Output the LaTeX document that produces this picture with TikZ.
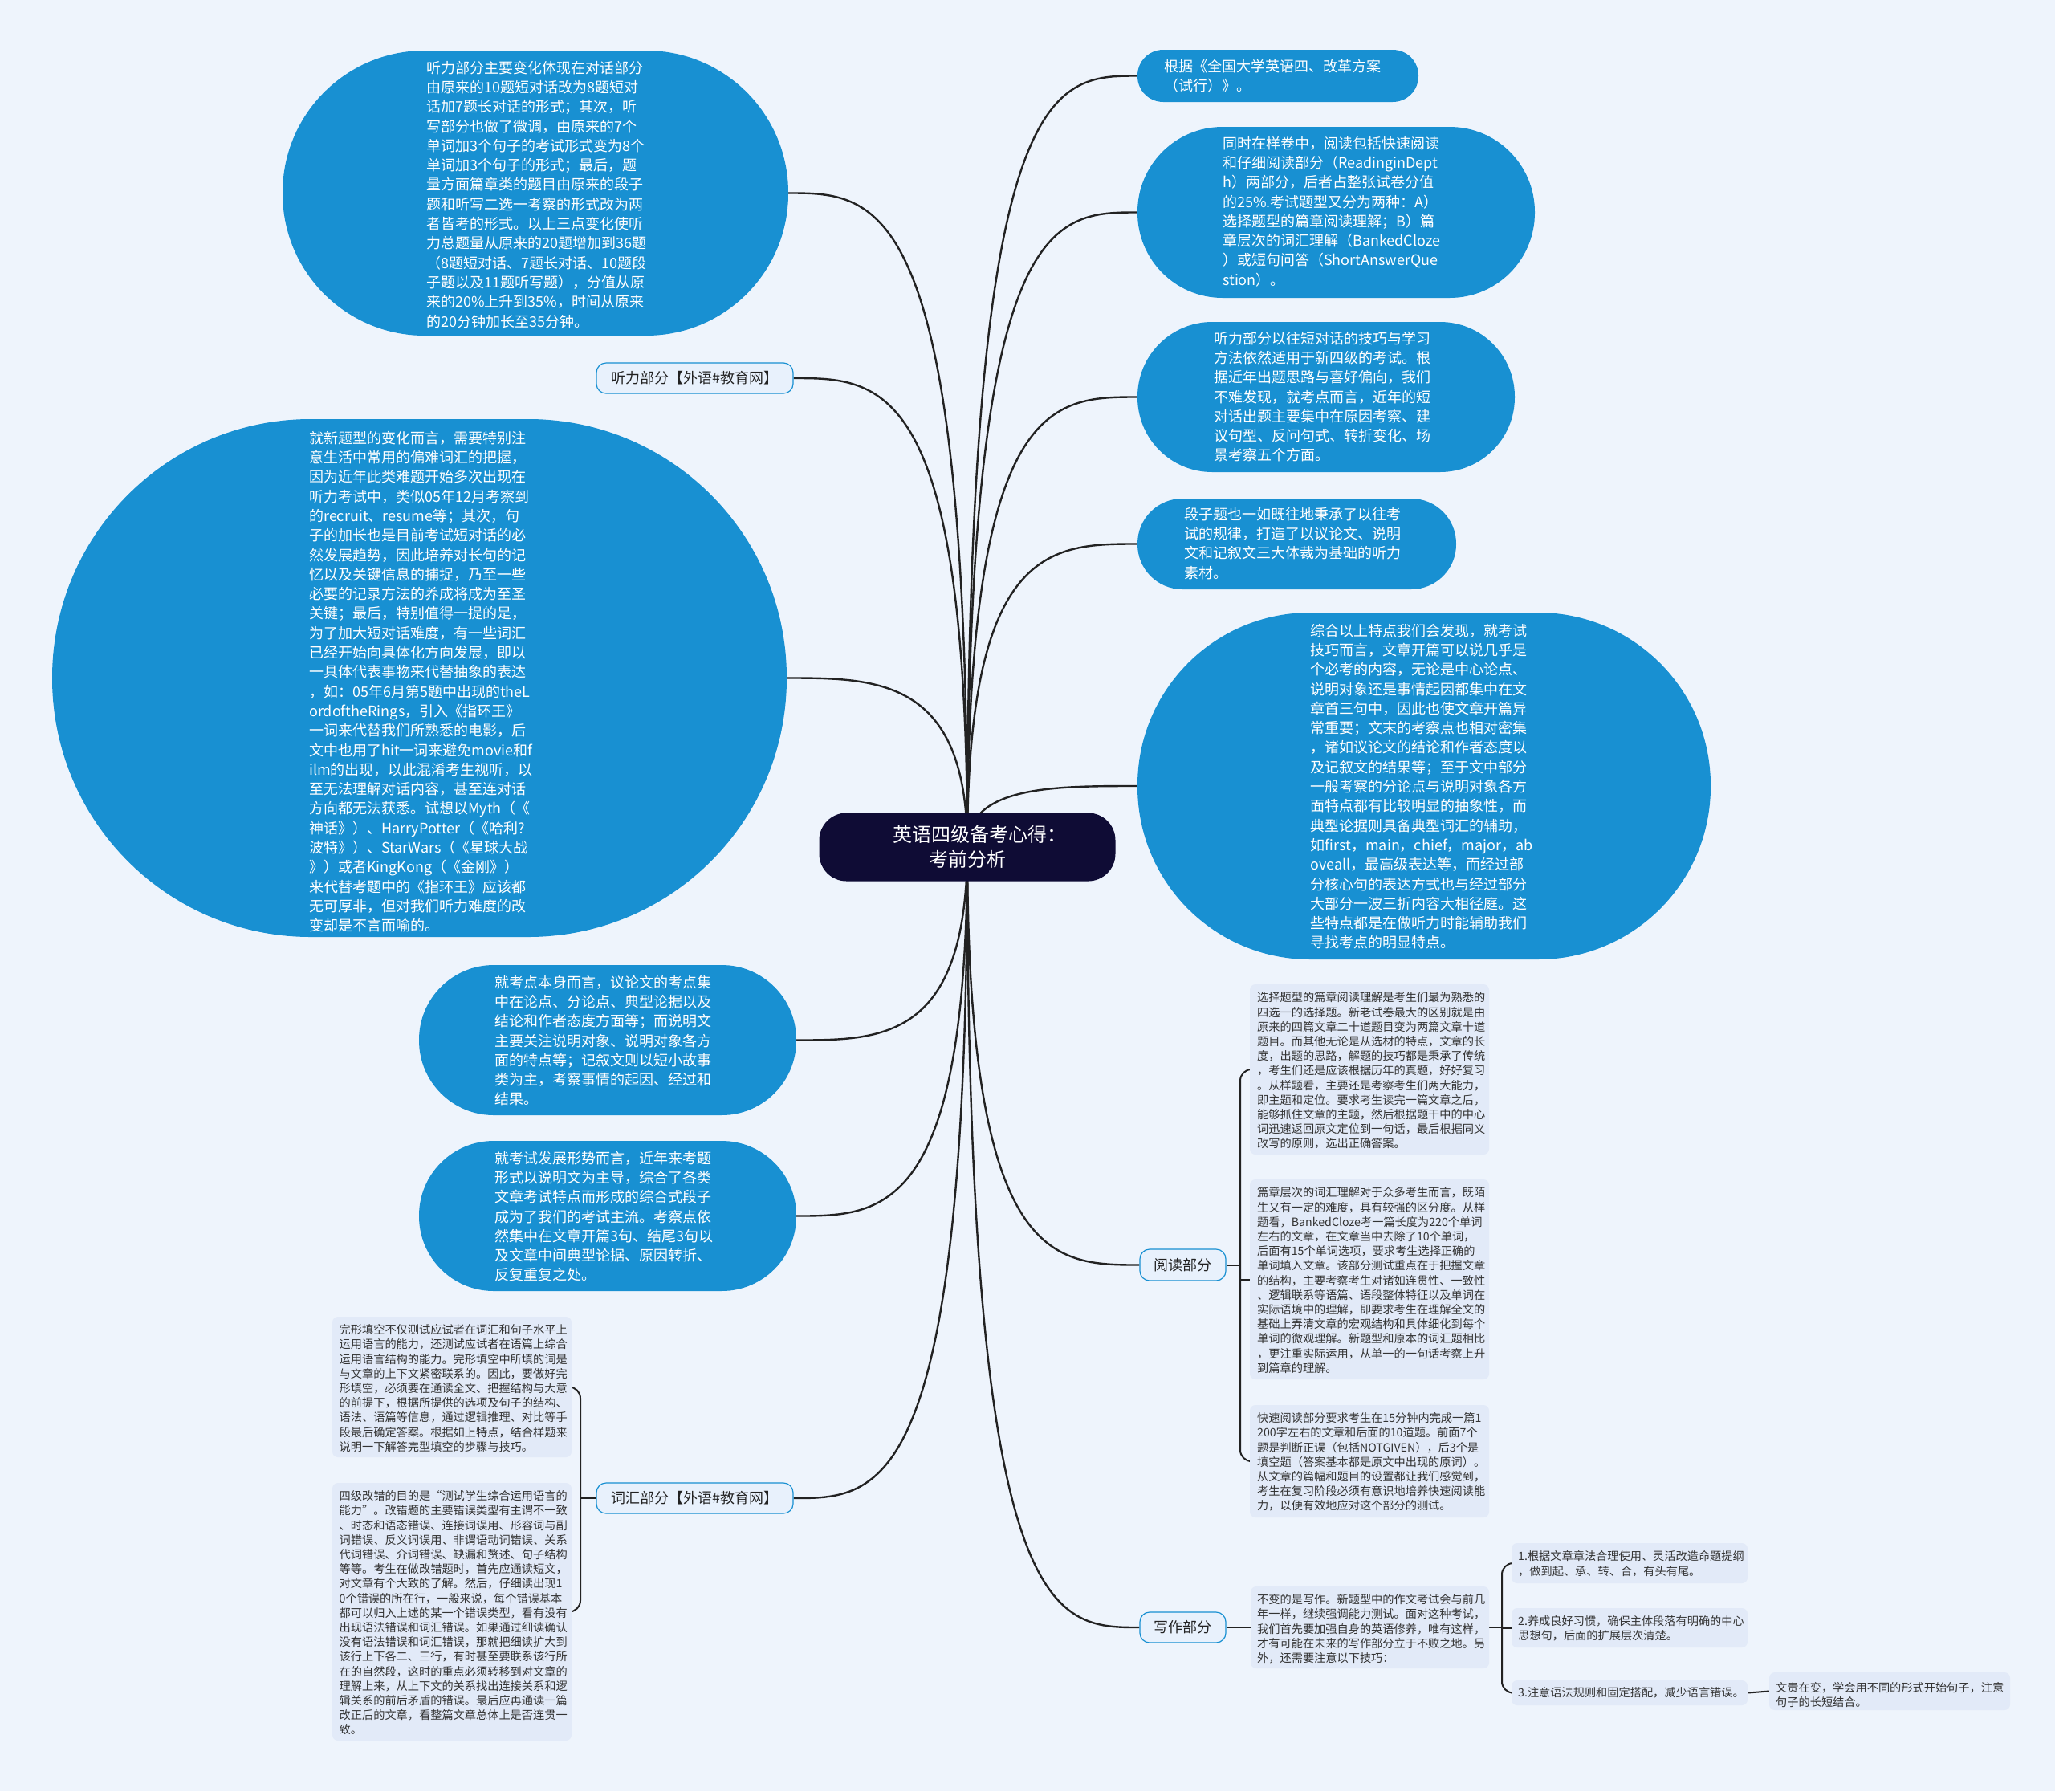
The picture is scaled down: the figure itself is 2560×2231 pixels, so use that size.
\documentclass[tikz,border=0pt]{standalone}
\usepackage{fontspec}
\newfontfamily\cjk{Noto Sans CJK SC}
\usetikzlibrary{calc}
\pgfdeclarelayer{bgl}
\pgfsetlayers{bgl,main}
\definecolor{bgc}{HTML}{EEF4FC}
\definecolor{bub}{HTML}{1890D2}
\definecolor{ctr}{HTML}{0F0C35}
\definecolor{sboxc}{HTML}{E2EAF8}
\definecolor{stxt}{HTML}{333333}
\definecolor{lnc}{HTML}{222222}
\definecolor{lblfill}{HTML}{E8F1FC}
\newcommand\mylink[2]{\draw[link] (#1.center) .. controls (#1.center |- #2) and ($(#1.center |- #2)!0.5!(#2)$) .. (#2);}
\begin{document}
\begin{tikzpicture}[x=1pt,y=-1pt,
  bubble/.style={rectangle,fill=bub,draw=none,inner sep=0pt},
  btext/.style={font=\cjk\fontsize{18}{24.3}\selectfont,text=white,align=left,inner sep=0pt,anchor=north west},
  sboxs/.style={rectangle,fill=sboxc,draw=none,rounded corners=7pt,inner sep=0pt},
  stext/.style={font=\cjk\fontsize{14.2}{18.2}\selectfont,text=stxt,align=left,inner sep=0pt,anchor=north west},
  lbl/.style={rectangle,fill=lblfill,draw=bub,line width=1.2pt,rounded corners=12pt,inner sep=0pt,font=\cjk\fontsize{18}{22}\selectfont,text=lnc},
  link/.style={draw=lnc,line width=2.4pt},
  blink/.style={draw=lnc,line width=2pt,rounded corners=14pt}]
\useasboundingbox (0,0) rectangle (2560,2231);

% center
\node[rectangle,fill=ctr,rounded corners=34pt,minimum width=369pt,minimum height=85pt,inner sep=0pt,text=white,align=center,font=\cjk\fontsize{24}{31}\selectfont] (c) at (1205,1055) {\hspace*{30pt}英语四级备考心得：\\考前分析};

% right bubbles
\node[bubble,minimum width=350pt,minimum height=65pt,rounded corners=32pt] (r1) at (1592,94.5) {};
\node[btext] (r1t) at (1450,73.7) {根据《全国大学英语四、改革方案\\%
（试行）》。};
\node[bubble,minimum width=495pt,minimum height=213pt,rounded corners=106pt] (r2) at (1664.5,264.5) {};
\node[btext] (r2t) at (1523,169.7) {同时在样卷中，阅读包括快速阅读\\%
和仔细阅读部分（ReadinginDept\\%
h）两部分，后者占整张试卷分值\\%
的25\%.考试题型又分为两种：A）\\%
选择题型的篇章阅读理解；B）篇\\%
章层次的词汇理解（BankedCloze\\%
）或短句问答（ShortAnswerQue\\%
stion）。};
\node[bubble,minimum width=470pt,minimum height=187pt,rounded corners=93pt] (r3) at (1652,494.5) {};
\node[btext] (r3t) at (1512,412.7) {听力部分以往短对话的技巧与学习\\%
方法依然适用于新四级的考试。根\\%
据近年出题思路与喜好偏向，我们\\%
不难发现，就考点而言，近年的短\\%
对话出题主要集中在原因考察、建\\%
议句型、反问句式、转折变化、场\\%
景考察五个方面。};
\node[bubble,minimum width=397pt,minimum height=113pt,rounded corners=56pt] (r4) at (1615.5,677.5) {};
\node[btext] (r4t) at (1475,631.7) {段子题也一如既往地秉承了以往考\\%
试的规律，打造了以议论文、说明\\%
文和记叙文三大体裁为基础的听力\\%
素材。};
\node[bubble,minimum width=714pt,minimum height=432pt,rounded corners=215pt] (r5) at (1774,979) {};
\node[btext] (r5t) at (1632.5,776.7) {综合以上特点我们会发现，就考试\\%
技巧而言，文章开篇可以说几乎是\\%
个必考的内容，无论是中心论点、\\%
说明对象还是事情起因都集中在文\\%
章首三句中，因此也使文章开篇异\\%
常重要；文末的考察点也相对密集\\%
，诸如议论文的结论和作者态度以\\%
及记叙文的结果等；至于文中部分\\%
一般考察的分论点与说明对象各方\\%
面特点都有比较明显的抽象性，而\\%
典型论据则具备典型词汇的辅助，\\%
如first，main，chief，major，ab\\%
oveall，最高级表达等，而经过部\\%
分核心句的表达方式也与经过部分\\%
大部分一波三折内容大相径庭。这\\%
些特点都是在做听力时能辅助我们\\%
寻找考点的明显特点。};

% left bubbles
\node[bubble,minimum width=630pt,minimum height=355pt,rounded corners=177pt] (l1) at (667,240.5) {};
\node[btext] (l1t) at (531,75.7) {听力部分主要变化体现在对话部分\\%
由原来的10题短对话改为8题短对\\%
话加7题长对话的形式；其次，听\\%
写部分也做了微调，由原来的7个\\%
单词加3个句子的考试形式变为8个\\%
单词加3个句子的形式；最后，题\\%
量方面篇章类的题目由原来的段子\\%
题和听写二选一考察的形式改为两\\%
者皆考的形式。以上三点变化使听\\%
力总题量从原来的20题增加到36题\\%
（8题短对话、7题长对话、10题段\\%
子题以及11题听写题），分值从原\\%
来的20\%上升到35\%，时间从原来\\%
的20分钟加长至35分钟。};
\node[bubble,minimum width=915pt,minimum height=645pt,rounded corners=322pt] (l2) at (522.5,844.5) {};
\node[btext] (l2t) at (385,536.7) {就新题型的变化而言，需要特别注\\%
意生活中常用的偏难词汇的把握，\\%
因为近年此类难题开始多次出现在\\%
听力考试中，类似05年12月考察到\\%
的recruit、resume等；其次，句\\%
子的加长也是目前考试短对话的必\\%
然发展趋势，因此培养对长句的记\\%
忆以及关键信息的捕捉，乃至一些\\%
必要的记录方法的养成将成为至圣\\%
关键；最后，特别值得一提的是，\\%
为了加大短对话难度，有一些词汇\\%
已经开始向具体化方向发展，即以\\%
一具体代表事物来代替抽象的表达\\%
，如：05年6月第5题中出现的theL\\%
ordoftheRings，引入《指环王》\\%
一词来代替我们所熟悉的电影，后\\%
文中也用了hit一词来避免movie和f\\%
ilm的出现，以此混淆考生视听，以\\%
至无法理解对话内容，甚至连对话\\%
方向都无法获悉。试想以Myth（《\\%
神话》）、HarryPotter（《哈利?\\%
波特》）、StarWars（《星球大战\\%
》）或者KingKong（《金刚》）\\%
来代替考题中的《指环王》应该都\\%
无可厚非，但对我们听力难度的改\\%
变却是不言而喻的。};
\node[bubble,minimum width=470pt,minimum height=187pt,rounded corners=93pt] (l3) at (757,1295.5) {};
\node[btext] (l3t) at (616,1214.7) {就考点本身而言，议论文的考点集\\%
中在论点、分论点、典型论据以及\\%
结论和作者态度方面等；而说明文\\%
主要关注说明对象、说明对象各方\\%
面的特点等；记叙文则以短小故事\\%
类为主，考察事情的起因、经过和\\%
结果。};
\node[bubble,minimum width=470pt,minimum height=187pt,rounded corners=93pt] (l4) at (757,1514.5) {};
\node[btext] (l4t) at (616,1433.7) {就考试发展形势而言，近年来考题\\%
形式以说明文为主导，综合了各类\\%
文章考试特点而形成的综合式段子\\%
成为了我们的考试主流。考察点依\\%
然集中在文章开篇3句、结尾3句以\\%
及文章中间典型论据、原因转折、\\%
反复重复之处。};

% labels
\node[lbl,minimum width=245pt,minimum height=38pt] (lh) at (865.5,471) {听力部分【外语\#教育网】};
\node[lbl,minimum width=245pt,minimum height=38pt] (lv) at (865.5,1866) {词汇部分【外语\#教育网】};
\node[lbl,minimum width=107pt,minimum height=39pt] (lr) at (1473.5,1575.5) {阅读部分};
\node[lbl,minimum width=107pt,minimum height=38pt] (lw) at (1473.5,2027) {写作部分};

% reading boxes
\node[sboxs,minimum width=298pt,minimum height=212pt] (rd1) at (1706,1332) {};
\node[stext] (rd1t) at (1566,1235.5) {选择题型的篇章阅读理解是考生们最为熟悉的\\%
四选一的选择题。新老试卷最大的区别就是由\\%
原来的四篇文章二十道题目变为两篇文章十道\\%
题目。而其他无论是从选材的特点，文章的长\\%
度，出题的思路，解题的技巧都是秉承了传统\\%
，考生们还是应该根据历年的真题，好好复习\\%
。从样题看，主要还是考察考生们两大能力，\\%
即主题和定位。要求考生读完一篇文章之后，\\%
能够抓住文章的主题，然后根据题干中的中心\\%
词迅速返回原文定位到一句话，最后根据同义\\%
改写的原则，选出正确答案。};
\node[sboxs,minimum width=298pt,minimum height=249pt] (rd2) at (1706,1593.5) {};
\node[stext] (rd2t) at (1566,1478.5) {篇章层次的词汇理解对于众多考生而言，既陌\\%
生又有一定的难度，具有较强的区分度。从样\\%
题看，BankedCloze考一篇长度为220个单词\\%
左右的文章，在文章当中去除了10个单词，\\%
后面有15个单词选项，要求考生选择正确的\\%
单词填入文章。该部分测试重点在于把握文章\\%
的结构，主要考察考生对诸如连贯性、一致性\\%
、逻辑联系等语篇、语段整体特征以及单词在\\%
实际语境中的理解，即要求考生在理解全文的\\%
基础上弄清文章的宏观结构和具体细化到每个\\%
单词的微观理解。新题型和原本的词汇题相比\\%
，更注重实际运用，从单一的一句话考察上升\\%
到篇章的理解。};
\node[sboxs,minimum width=298pt,minimum height=140pt] (rd3) at (1706,1820) {};
\node[stext] (rd3t) at (1566,1759.5) {快速阅读部分要求考生在15分钟内完成一篇1\\%
200字左右的文章和后面的10道题。前面7个\\%
题是判断正误（包括NOTGIVEN），后3个是\\%
填空题（答案基本都是原文中出现的原词）。\\%
从文章的篇幅和题目的设置都让我们感觉到，\\%
考生在复习阶段必须有意识地培养快速阅读能\\%
力，以便有效地应对这个部分的测试。};

% vocabulary boxes
\node[sboxs,minimum width=298pt,minimum height=175pt] (v1) at (563,1727.5) {};
\node[stext] (v1t) at (422.5,1649.5) {完形填空不仅测试应试者在词汇和句子水平上\\%
运用语言的能力，还测试应试者在语篇上综合\\%
运用语言结构的能力。完形填空中所填的词是\\%
与文章的上下文紧密联系的。因此，要做好完\\%
形填空，必须要在通读全文、把握结构与大意\\%
的前提下，根据所提供的选项及句子的结构、\\%
语法、语篇等信息，通过逻辑推理、对比等手\\%
段最后确定答案。根据如上特点，结合样题来\\%
说明一下解答完型填空的步骤与技巧。};
\node[sboxs,minimum width=298pt,minimum height=321pt] (v2) at (563,2007.5) {};
\node[stext] (v2t) at (422.5,1856.5) {四级改错的目的是“测试学生综合运用语言的\\%
能力”。改错题的主要错误类型有主谓不一致\\%
、时态和语态错误、连接词误用、形容词与副\\%
词错误、反义词误用、非谓语动词错误、关系\\%
代词错误、介词错误、缺漏和赘述、句子结构\\%
等等。考生在做改错题时，首先应通读短文，\\%
对文章有个大致的了解。然后，仔细读出现1\\%
0个错误的所在行，一般来说，每个错误基本\\%
都可以归入上述的某一个错误类型，看有没有\\%
出现语法错误和词汇错误。如果通过细读确认\\%
没有语法错误和词汇错误，那就把细读扩大到\\%
该行上下各二、三行，有时甚至要联系该行所\\%
在的自然段，这时的重点必须转移到对文章的\\%
理解上来，从上下文的关系找出连接关系和逻\\%
辑关系的前后矛盾的错误。最后应再通读一篇\\%
改正后的文章，看整篇文章总体上是否连贯一\\%
致。};

% writing boxes
\node[sboxs,minimum width=297pt,minimum height=102pt] (w1) at (1706.5,2027) {};
\node[stext] (w1t) at (1566,1985.5) {不变的是写作。新题型中的作文考试会与前几\\%
年一样，继续强调能力测试。面对这种考试，\\%
我们首先要加强自身的英语修养，唯有这样，\\%
才有可能在未来的写作部分立于不败之地。另\\%
外，还需要注意以下技巧：};
\node[sboxs,minimum width=294pt,minimum height=50pt] (w2) at (2030,1947) {};
\node[stext] (w2t) at (1891,1931.5) {1.根据文章章法合理使用、灵活改造命题提纲\\%
，做到起、承、转、合，有头有尾。};
\node[sboxs,minimum width=294pt,minimum height=49pt] (w3) at (2030,2027.5) {};
\node[stext] (w3t) at (1891,2012.5) {2.养成良好习惯，确保主体段落有明确的中心\\%
思想句，后面的扩展层次清楚。};
\node[sboxs,minimum width=294pt,minimum height=31pt] (w4) at (2030,2108.5) {};
\node[stext] (w4t) at (1891,2101) {3.注意语法规则和固定搭配，减少语言错误。};
\node[sboxs,minimum width=300pt,minimum height=47pt] (w5) at (2354,2106.5) {};
\node[stext] (w5t) at (2212,2095) {文贵在变，学会用不同的形式开始句子，注意\\%
句子的长短结合。};

\coordinate (rbx) at (1545,1575.5);
\coordinate (vbx) at (723,1866);
\coordinate (wbx) at (1871,2027);

\begin{pgfonlayer}{bgl}
\fill[bgc] (0,0) rectangle (2560,2231);
\mylink{c}{r1.west}
\mylink{c}{r2.west}
\mylink{c}{r3.west}
\mylink{c}{r4.west}
\mylink{c}{r5.west}
\mylink{c}{l1.east}
\mylink{c}{lh.east}
\mylink{c}{l2.east}
\mylink{c}{l3.east}
\mylink{c}{l4.east}
\mylink{c}{lv.east}
\mylink{c}{lr.west}
\mylink{c}{lw.west}
% reading bracket
\draw[blink] (rd1.west) -- (rbx |- rd1.west) -- (rbx |- rd3.west) -- (rd3.west);
\draw[blink] (lr.east) -- (rbx);
\draw[blink] (rbx |- rd2.west) -- (rd2.west);
% vocabulary bracket
\draw[blink] (v1.east) -- (vbx |- v1.east) -- (vbx |- v2.east) -- (v2.east);
\draw[blink] (lv.west) -- (vbx);
% writing bracket
\draw[blink] (lw.east) -- (w1.west);
\draw[blink] (w1.east) -- (wbx);
\draw[blink] (w2.west) -- (wbx |- w2.west) -- (wbx |- w4.west) -- (w4.west);
\draw[blink] (wbx |- w3.west) -- (w3.west);
\draw[blink] (w4.east) -- (w5.west);
\end{pgfonlayer}
\end{tikzpicture}
\end{document}
